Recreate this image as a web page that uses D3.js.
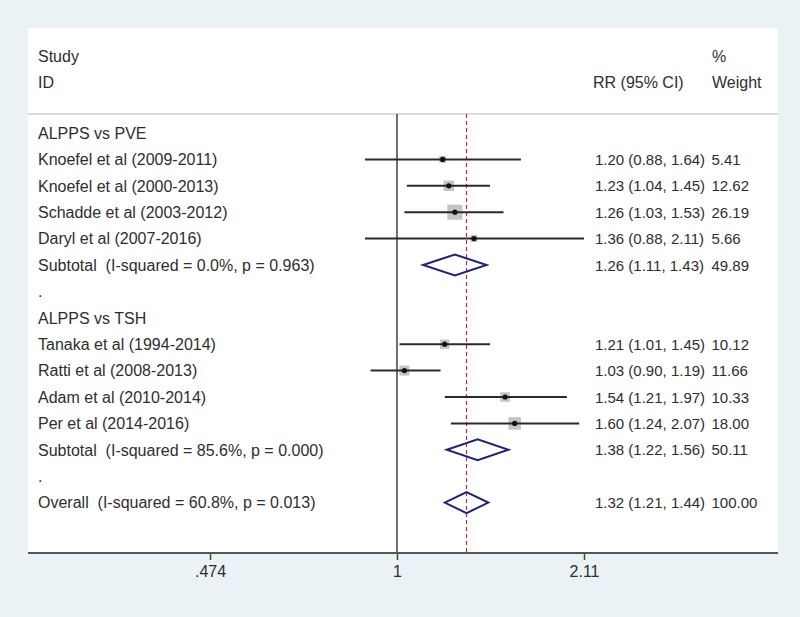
<!DOCTYPE html>
<html>
<head>
<meta charset="utf-8">
<script src="https://cdn.jsdelivr.net/npm/d3@7"></script>
<style>
  body { margin: 0; background: #eaf2f6; }
  text { font-family: "Liberation Sans", Arial, sans-serif; font-size: 16px; fill: #2e2e2e; white-space: pre; }
</style>
</head>
<body>
<div id="chart"></div>
<script>
// rows top to bottom
var labels = ["ALPPS vs PVE", "Knoefel et al (2009-2011)", "Knoefel et al (2000-2013)",
    "Schadde et al (2003-2012)", "Daryl et al (2007-2016)",
    "Subtotal  (I-squared = 0.0%, p = 0.963)", ".", "ALPPS vs TSH",
    "Tanaka et al (1994-2014)", "Ratti et al (2008-2013)", "Adam et al (2010-2014)",
    "Per et al (2014-2016)", "Subtotal  (I-squared = 85.6%, p = 0.000)", ".",
    "Overall  (I-squared = 60.8%, p = 0.013)"];
var kinds = ["head", "study", "study", "study", "study", "pool", "blank", "head",
    "study", "study", "study", "study", "pool", "blank", "pool"];
var rr    = [null, 1.20, 1.23, 1.26, 1.36, 1.26, null, null, 1.21, 1.03, 1.54, 1.60, 1.38, null, 1.32];
var lower = [null, 0.88, 1.04, 1.03, 0.88, 1.11, null, null, 1.01, 0.90, 1.21, 1.24, 1.22, null, 1.21];
var upper = [null, 1.64, 1.45, 1.53, 2.11, 1.43, null, null, 1.45, 1.19, 1.97, 2.07, 1.56, null, 1.44];
var weight = [null, 5.41, 12.62, 26.19, 5.66, 49.89, null, null, 10.12, 11.66, 10.33, 18.00, 50.11, null, 100.00];

var tickVals = [0.474, 1, 2.11];
var tickText = [".474", "1", "2.11"];
var overall = 1.32;

var width = 800, height = 617;
var panel = {left: 28, right: 778, top: 28, bottom: 553};

var svg = d3.select("#chart").append("svg")
    .attr("width", width)
    .attr("height", height);

svg.append("rect")
    .attr("x", panel.left).attr("y", panel.top)
    .attr("width", panel.right - panel.left)
    .attr("height", panel.bottom - panel.top)
    .attr("fill", "#fff");

var x = d3.scaleLog().domain([0.474, 2.11]).range([210, 584]);
var y = d3.scaleLinear().domain([0, labels.length - 1]).range([133, 502.6]);
var fmt = d3.format(".2f");

var rows = labels.map(function(l, i) {
    return {label: l, kind: kinds[i], rr: rr[i], lo: lower[i], hi: upper[i], w: weight[i], i: i};
});

// header
svg.append("text").attr("x", 38).attr("y", 62).text("Study");
svg.append("text").attr("x", 38).attr("y", 88).text("ID");
svg.append("text").attr("x", 712).attr("y", 62).text("%");
svg.append("text").attr("x", 712).attr("y", 88).text("Weight");
svg.append("text").attr("x", 593).attr("y", 88).text("RR (95% CI)");

svg.append("line")
    .attr("x1", panel.left).attr("x2", panel.right)
    .attr("y1", 114).attr("y2", 114)
    .attr("stroke", "#cfcfcf").attr("stroke-width", 1.5);

// null line and overall line
svg.append("line")
    .attr("x1", x(1)).attr("x2", x(1))
    .attr("y1", 114).attr("y2", panel.bottom)
    .attr("stroke", "#222").attr("stroke-width", 1.3);

svg.append("line")
    .attr("x1", x(overall)).attr("x2", x(overall))
    .attr("y1", 114).attr("y2", panel.bottom)
    .attr("stroke", "#a8323e").attr("stroke-width", 1.2)
    .attr("stroke-dasharray", "4,3");

// labels
svg.selectAll(".lab")
    .data(rows)
    .enter().append("text")
    .attr("class", "lab")
    .attr("x", 38)
    .attr("y", function(d) { return y(d.i) + 5.8; })
    .text(function(d) { return d.label; });

var studies = rows.filter(function(d) { return d.kind == "study"; });
var pools = rows.filter(function(d) { return d.kind == "pool"; });

// weight boxes
svg.selectAll(".box")
    .data(studies)
    .enter().append("rect")
    .attr("class", "box")
    .attr("x", function(d) { return x(d.rr) - 1.475 * Math.sqrt(d.w); })
    .attr("y", function(d) { return y(d.i) - 1.475 * Math.sqrt(d.w); })
    .attr("width", function(d) { return 2.95 * Math.sqrt(d.w); })
    .attr("height", function(d) { return 2.95 * Math.sqrt(d.w); })
    .attr("fill", "#c4c4c4");

svg.selectAll(".ci")
    .data(studies)
    .enter().append("line")
    .attr("class", "ci")
    .attr("x1", function(d) { return x(d.lo); })
    .attr("x2", function(d) { return x(d.hi); })
    .attr("y1", function(d) { return y(d.i); })
    .attr("y2", function(d) { return y(d.i); })
    .attr("stroke", "#2a2a2a").attr("stroke-width", 2);

svg.selectAll(".pt")
    .data(studies)
    .enter().append("circle")
    .attr("class", "pt")
    .attr("cx", function(d) { return x(d.rr); })
    .attr("cy", function(d) { return y(d.i); })
    .attr("r", 2.6)
    .attr("fill", "#111");

// pooled diamonds
svg.selectAll(".dia")
    .data(pools)
    .enter().append("path")
    .attr("class", "dia")
    .attr("d", function(d) {
        var cy = y(d.i);
        return "M" + x(d.lo) + "," + cy + "L" + x(d.rr) + "," + (cy - 10.5) +
            "L" + x(d.hi) + "," + cy + "L" + x(d.rr) + "," + (cy + 10.5) + "Z";
    })
    .attr("fill", "none")
    .attr("stroke", "#232370").attr("stroke-width", 2);

// right columns
var est = rows.filter(function(d) { return d.rr != null; });
svg.selectAll(".est")
    .data(est)
    .enter().append("text")
    .attr("class", "est")
    .attr("x", 595)
    .attr("y", function(d) { return y(d.i) + 5.5; })
    .style("font-size", "15px")
    .text(function(d) { return fmt(d.rr) + " (" + fmt(d.lo) + ", " + fmt(d.hi) + ")"; });

svg.selectAll(".wt")
    .data(est)
    .enter().append("text")
    .attr("class", "wt")
    .attr("x", 711.5)
    .attr("y", function(d) { return y(d.i) + 5.5; })
    .style("font-size", "15px")
    .text(function(d) { return fmt(d.w); });

// axis
var axis = svg.append("g")
    .attr("transform", "translate(0," + panel.bottom + ")")
    .call(d3.axisBottom(x).tickValues(tickVals).tickSize(7).tickPadding(6)
        .tickFormat(function(d, i) { return tickText[i]; }));
axis.select(".domain").remove();
axis.selectAll(".tick line").attr("stroke", "#444").attr("stroke-width", 1.5);
axis.selectAll(".tick text")
    .style("font-family", "'Liberation Sans', Arial, sans-serif")
    .style("font-size", "16px").attr("fill", "#2e2e2e");

svg.append("line")
    .attr("x1", panel.left).attr("x2", panel.right)
    .attr("y1", panel.bottom).attr("y2", panel.bottom)
    .attr("stroke", "#555").attr("stroke-width", 2);
</script>
</body>
</html>
